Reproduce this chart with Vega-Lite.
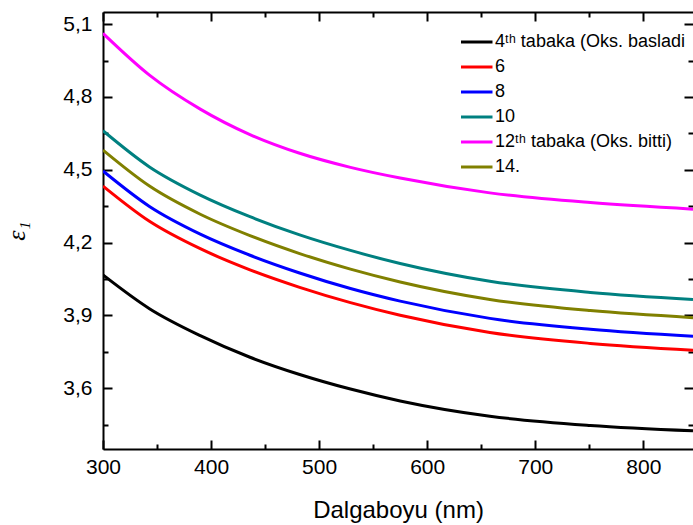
{
  "$schema": "https://vega.github.io/schema/vega-lite/v6.json",
  "width": 590,
  "height": 437,
  "autosize": {"type": "none"},
  "padding": {"left": 103, "top": 12, "right": 0, "bottom": 76},
  "background": "white",
  "config": {
    "view": {"stroke": null},
    "font": "Liberation Sans",
    "axis": {
      "domainColor": "black", "domainWidth": 2, "tickColor": "black", "tickWidth": 2,
      "grid": false, "labelColor": "black", "titleColor": "black",
      "labelFont": "Liberation Sans", "labelFontSize": 21, "titleFont": "Liberation Sans",
      "titleFontWeight": "normal", "labelFlush": false, "labelOverlap": false
    },
    "legend": {"labelFont": "Liberation Sans"}
  },
  "data": {"values": [
    {"x": 300, "s": "4ᵗʰ tabaka (Oks. basladi", "y": 4.067},
    {"x": 343, "s": "4ᵗʰ tabaka (Oks. basladi", "y": 3.928},
    {"x": 390, "s": "4ᵗʰ tabaka (Oks. basladi", "y": 3.817},
    {"x": 436, "s": "4ᵗʰ tabaka (Oks. basladi", "y": 3.728},
    {"x": 482, "s": "4ᵗʰ tabaka (Oks. basladi", "y": 3.657},
    {"x": 529, "s": "4ᵗʰ tabaka (Oks. basladi", "y": 3.597},
    {"x": 575, "s": "4ᵗʰ tabaka (Oks. basladi", "y": 3.548},
    {"x": 658, "s": "4ᵗʰ tabaka (Oks. basladi", "y": 3.485},
    {"x": 751, "s": "4ᵗʰ tabaka (Oks. basladi", "y": 3.447},
    {"x": 846, "s": "4ᵗʰ tabaka (Oks. basladi", "y": 3.425},
    {"x": 300, "s": "6", "y": 4.433},
    {"x": 343, "s": "6", "y": 4.288},
    {"x": 390, "s": "6", "y": 4.175},
    {"x": 436, "s": "6", "y": 4.088},
    {"x": 482, "s": "6", "y": 4.016},
    {"x": 529, "s": "6", "y": 3.953},
    {"x": 575, "s": "6", "y": 3.901},
    {"x": 658, "s": "6", "y": 3.83},
    {"x": 751, "s": "6", "y": 3.785},
    {"x": 846, "s": "6", "y": 3.757},
    {"x": 300, "s": "8", "y": 4.495},
    {"x": 343, "s": "8", "y": 4.349},
    {"x": 390, "s": "8", "y": 4.235},
    {"x": 436, "s": "8", "y": 4.148},
    {"x": 482, "s": "8", "y": 4.075},
    {"x": 529, "s": "8", "y": 4.011},
    {"x": 575, "s": "8", "y": 3.959},
    {"x": 658, "s": "8", "y": 3.888},
    {"x": 751, "s": "8", "y": 3.843},
    {"x": 846, "s": "8", "y": 3.814},
    {"x": 300, "s": "10", "y": 4.661},
    {"x": 343, "s": "10", "y": 4.512},
    {"x": 390, "s": "10", "y": 4.396},
    {"x": 436, "s": "10", "y": 4.307},
    {"x": 482, "s": "10", "y": 4.232},
    {"x": 529, "s": "10", "y": 4.168},
    {"x": 575, "s": "10", "y": 4.114},
    {"x": 658, "s": "10", "y": 4.041},
    {"x": 751, "s": "10", "y": 3.995},
    {"x": 846, "s": "10", "y": 3.966},
    {"x": 300, "s": "12ᵗʰ tabaka (Oks. bitti)", "y": 5.062},
    {"x": 343, "s": "12ᵗʰ tabaka (Oks. bitti)", "y": 4.89},
    {"x": 390, "s": "12ᵗʰ tabaka (Oks. bitti)", "y": 4.75},
    {"x": 436, "s": "12ᵗʰ tabaka (Oks. bitti)", "y": 4.645},
    {"x": 482, "s": "12ᵗʰ tabaka (Oks. bitti)", "y": 4.568},
    {"x": 529, "s": "12ᵗʰ tabaka (Oks. bitti)", "y": 4.51},
    {"x": 575, "s": "12ᵗʰ tabaka (Oks. bitti)", "y": 4.466},
    {"x": 658, "s": "12ᵗʰ tabaka (Oks. bitti)", "y": 4.405},
    {"x": 751, "s": "12ᵗʰ tabaka (Oks. bitti)", "y": 4.365},
    {"x": 846, "s": "12ᵗʰ tabaka (Oks. bitti)", "y": 4.338},
    {"x": 300, "s": "14.", "y": 4.581},
    {"x": 343, "s": "14.", "y": 4.433},
    {"x": 390, "s": "14.", "y": 4.317},
    {"x": 436, "s": "14.", "y": 4.229},
    {"x": 482, "s": "14.", "y": 4.155},
    {"x": 529, "s": "14.", "y": 4.091},
    {"x": 575, "s": "14.", "y": 4.038},
    {"x": 658, "s": "14.", "y": 3.966},
    {"x": 751, "s": "14.", "y": 3.92},
    {"x": 846, "s": "14.", "y": 3.891}
  ]},
  "layer": [
    {
      "mark": {"type": "line", "strokeWidth": 3, "interpolate": "monotone", "clip": true},
      "encoding": {
        "x": {
          "field": "x", "type": "quantitative",
          "scale": {"domain": [300, 846], "nice": false, "zero": false},
          "axis": {
            "orient": "bottom",
            "values": [300, 350, 400, 450, 500, 550, 600, 650, 700, 750, 800],
            "labelExpr": "datum.value % 100 === 0 ? datum.label : ''",
            "tickSize": {"condition": {"test": "datum.value % 100 === 0", "value": -9}, "value": -5},
            "labelPadding": 16,
            "title": "Dalgaboyu (nm)", "titleFontSize": 24, "titlePadding": 17
          }
        },
        "y": {
          "field": "y", "type": "quantitative",
          "scale": {"domain": [3.35, 5.15], "nice": false, "zero": false},
          "axis": {
            "orient": "left",
            "values": [3.45, 3.6, 3.75, 3.9, 4.05, 4.2, 4.35, 4.5, 4.65, 4.8, 4.95, 5.1],
            "labelExpr": "round(datum.value * 100) % 30 === 0 ? replace(format(datum.value, '.1f'), '.', ',') : ''",
            "tickSize": {"condition": {"test": "round(datum.value * 100) % 30 === 0", "value": -9}, "value": -5},
            "labelPadding": 20,
            "title": "ε₁", "titleFont": "Liberation Serif", "titleFontStyle": "italic",
            "titleFontSize": 26, "titlePadding": 33
          }
        },
        "color": {
          "field": "s", "type": "nominal",
          "scale": {
            "domain": ["4ᵗʰ tabaka (Oks. basladi", "6", "8", "10", "12ᵗʰ tabaka (Oks. bitti)", "14."],
            "range": ["#000000", "#ff0000", "#0000ff", "#008080", "#ff00ff", "#808000"]
          },
          "legend": {
            "title": null, "orient": "none", "legendX": 367, "legendY": 18,
            "symbolType": "M-2,0H1", "symbolSize": 441, "symbolStrokeWidth": 3,
            "symbolFillColor": "transparent",
            "labelFontSize": 18, "labelColor": "black", "labelLimit": 400,
            "labelOffset": 1, "rowPadding": 4, "padding": 0
          }
        }
      }
    },
    {
      "mark": {"type": "point", "opacity": 0, "clip": true},
      "encoding": {
        "x": {
          "field": "x", "type": "quantitative",
          "scale": {"domain": [300, 846], "nice": false, "zero": false},
          "axis": {
            "orient": "top", "labels": false, "title": null,
            "values": [300, 350, 400, 450, 500, 550, 600, 650, 700, 750, 800],
            "tickSize": {"condition": {"test": "datum.value % 100 === 0", "value": -9}, "value": -5}
          }
        },
        "y": {
          "field": "y", "type": "quantitative",
          "scale": {"domain": [3.35, 5.15], "nice": false, "zero": false},
          "axis": {
            "orient": "right", "labels": false, "title": null, "domain": false,
            "values": [3.45, 3.6, 3.75, 3.9, 4.05, 4.2, 4.35, 4.5, 4.65, 4.8, 4.95, 5.1],
            "tickSize": {"condition": {"test": "round(datum.value * 100) % 30 === 0", "value": -9}, "value": -5}
          }
        }
      }
    }
  ],
  "resolve": {"axis": {"x": "independent", "y": "independent"}}
}
